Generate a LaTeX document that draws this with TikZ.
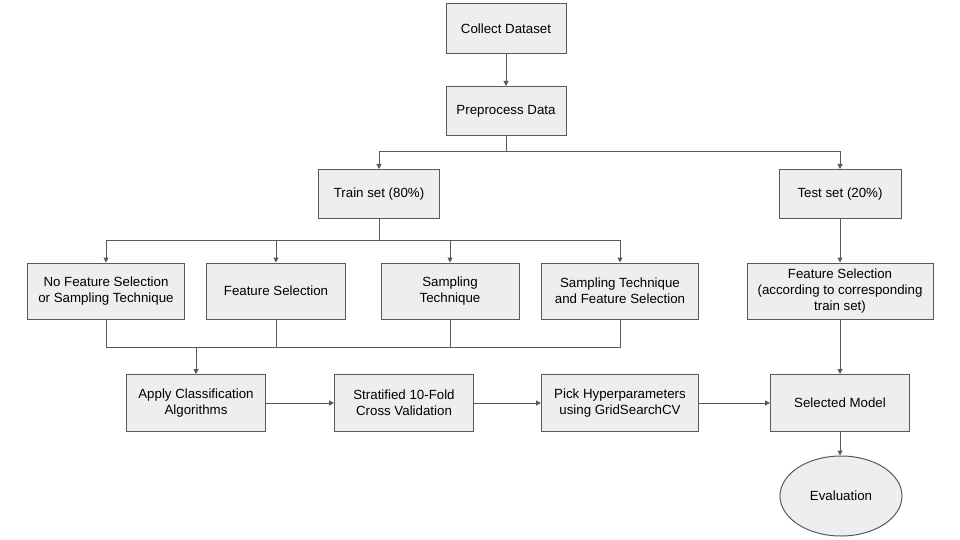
\documentclass[tikz,border=0pt]{standalone}
\usepackage{fontspec}
\setmainfont{Liberation Sans}
\usetikzlibrary{arrows.meta,shapes.geometric}
\definecolor{linec}{HTML}{595959}
\definecolor{boxfill}{HTML}{EEEEEE}
\begin{document}
\begin{tikzpicture}[x=1pt,y=-1pt,
  box/.style={draw=linec,fill=boxfill,line width=1pt,align=center,inner sep=2pt,font=\fontsize{13.3}{16}\selectfont},
  conn/.style={draw=linec,line width=1pt},
  arr/.style={conn,-{Triangle[length=5pt,width=5pt]}}]
\useasboundingbox[fill=white] (0,0) rectangle (960,540);
\node[box,minimum width=120pt,minimum height=50pt] (collect) at (506,29) {Collect Dataset};
\node[box,minimum width=120pt,minimum height=49pt] (pre) at (506,111) {Preprocess Data};
\node[box,minimum width=121pt,minimum height=49pt] (train) at (379,194) {Train set (80\%)};
\node[box,minimum width=122pt,minimum height=49pt] (test) at (840,194) {Test set (20\%)};
\node[box,minimum width=157pt,minimum height=56pt] (nofs) at (106,291) {No Feature Selection\\or Sampling Technique};
\node[box,minimum width=139pt,minimum height=56pt] (fs) at (276,291) {Feature Selection};
\node[box,minimum width=138pt,minimum height=56pt] (samp) at (450,291) {Sampling\\Technique};
\node[box,minimum width=157pt,minimum height=56pt] (sampfs) at (620,291) {Sampling Technique\\and Feature Selection};
\node[box,minimum width=186pt,minimum height=56pt] (fstest) at (840,291) {Feature Selection\\(according to corresponding\\train set)};
\node[box,minimum width=139pt,minimum height=57pt] (apply) at (196,403) {Apply Classification\\Algorithms};
\node[box,minimum width=139pt,minimum height=57pt] (strat) at (404,403) {Stratified 10-Fold\\Cross Validation};
\node[box,minimum width=157pt,minimum height=57pt] (pick) at (620,403) {Pick Hyperparameters\\using GridSearchCV};
\node[box,minimum width=139pt,minimum height=57pt] (sel) at (840,403) {Selected Model};
\node[box,ellipse,minimum width=122pt,minimum height=80pt,inner sep=0pt] (eval) at (841,496) {Evaluation};
\coordinate (split) at (506,152);
\coordinate (split2) at (379,240);
\coordinate (merge) at (196,347);
\draw[arr] (collect) -- (pre);
\draw[conn] (pre.south) -- (split);
\draw[arr] (split) -| (train.north);
\draw[arr] (split) -| (test.north);
\draw[conn] (train.south) -- (split2);
\draw[arr] (split2) -| (nofs.north);
\draw[arr] (split2) -| (fs.north);
\draw[arr] (split2) -| (samp.north);
\draw[arr] (split2) -| (sampfs.north);
\draw[conn] (nofs.south) |- (merge);
\draw[conn] (fs.south) |- (merge);
\draw[conn] (samp.south) |- (merge);
\draw[conn] (sampfs.south) |- (merge);
\draw[arr] (merge) -- (apply.north);
\draw[arr] (apply) -- (strat);
\draw[arr] (strat) -- (pick);
\draw[arr] (pick) -- (sel);
\draw[arr] (test) -- (fstest);
\draw[arr] (fstest) -- (sel);
\draw[arr] (sel.south) -- (sel.south |- eval.north);
\end{tikzpicture}
\end{document}
